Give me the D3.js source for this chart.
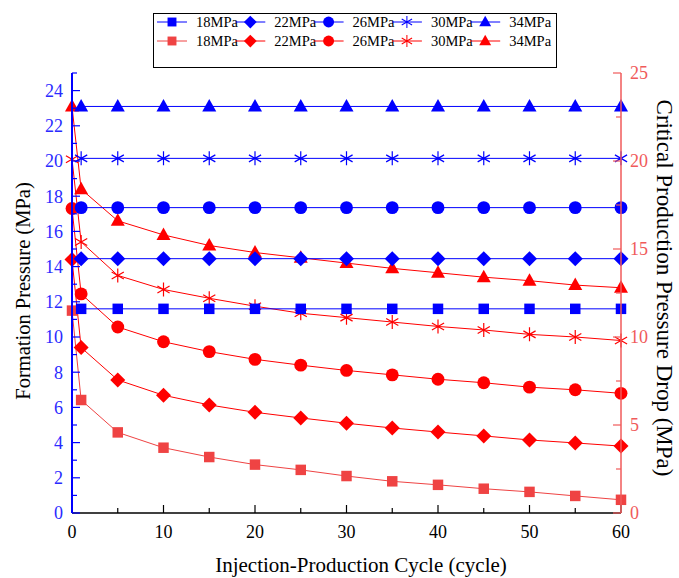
<!DOCTYPE html>
<html>
<head>
<meta charset="utf-8">
<script src="https://cdn.jsdelivr.net/npm/d3@7"></script>
<style>
  body { margin: 0; background: #fff; }
  text { font-family: "Liberation Serif", "Times New Roman", serif; }
</style>
</head>
<body>
<svg id="chart"></svg>
<script>
// x values (injection-production cycle)
const cycles = [0, 1, 5, 10, 15, 20, 25, 30, 35, 40, 45, 50, 55, 60];
const seriesNames = ["18MPa", "22MPa", "26MPa", "30MPa", "34MPa"];
const symbolTypes = ["square", "diamond", "circle", "asterisk", "triangle"];

// formation pressure (left axis), from cycle 1 onwards
const formation18 = [11.6, 11.6, 11.6, 11.6, 11.6, 11.6, 11.6, 11.6, 11.6, 11.6, 11.6, 11.6, 11.6];
const formation22 = [14.45, 14.45, 14.45, 14.45, 14.45, 14.45, 14.45, 14.45, 14.45, 14.45, 14.45, 14.45, 14.45];
const formation26 = [17.35, 17.35, 17.35, 17.35, 17.35, 17.35, 17.35, 17.35, 17.35, 17.35, 17.35, 17.35, 17.35];
const formation30 = [20.15, 20.15, 20.15, 20.15, 20.15, 20.15, 20.15, 20.15, 20.15, 20.15, 20.15, 20.15, 20.15];
const formation34 = [23.1, 23.1, 23.1, 23.1, 23.1, 23.1, 23.1, 23.1, 23.1, 23.1, 23.1, 23.1, 23.1];

// critical production pressure drop (right axis), from cycle 0
const drop18 = [11.5, 6.42, 4.58, 3.71, 3.18, 2.75, 2.45, 2.1, 1.8, 1.6, 1.38, 1.2, 0.97, 0.75];
const drop22 = [14.4, 9.4, 7.56, 6.69, 6.14, 5.72, 5.4, 5.1, 4.83, 4.6, 4.38, 4.15, 3.98, 3.8];
const drop26 = [17.3, 12.45, 10.57, 9.73, 9.17, 8.73, 8.4, 8.1, 7.85, 7.6, 7.4, 7.15, 7.0, 6.8];
const drop30 = [20.1, 15.4, 13.5, 12.7, 12.2, 11.75, 11.35, 11.1, 10.85, 10.6, 10.4, 10.15, 10.0, 9.8];
const drop34 = [23.1, 18.4, 16.6, 15.8, 15.2, 14.8, 14.5, 14.2, 13.9, 13.65, 13.4, 13.2, 12.95, 12.8];

const xTicks = [0, 10, 20, 30, 40, 50, 60];
const leftTicks = [0, 2, 4, 6, 8, 10, 12, 14, 16, 18, 20, 22, 24];
const rightTicks = [0, 5, 10, 15, 20, 25];

const W = 679, H = 578;
const margin = { left: 72, right: 58, top: 73, bottom: 65 };
const blue = "#0000ff", red = "#ff0000", red18 = "#ef4343", axisRed = "#f05a5a", labelBlue = "#2a2aff";

const svg = d3.select("#chart").attr("width", W).attr("height", H);

const x = d3.scaleLinear().domain([0, 60]).range([margin.left, W - margin.right]);
const yL = d3.scaleLinear().domain([0, 25]).range([H - margin.bottom, margin.top]);
const yR = d3.scaleLinear().domain([0, 25]).range([H - margin.bottom, margin.top]);

// marker paths
function markerPath(type) {
  if (type === "square") return d3.symbol(d3.symbolSquare, 110)();
  if (type === "circle") return d3.symbol(d3.symbolCircle, 130)();
  if (type === "diamond") { const r = 7.5; return `M0,${-r}L${r},0L0,${r}L${-r},0Z`; }
  if (type === "triangle") return "M0,-7.5L7,5L-7,5Z";
  // asterisk: vertical bar plus an X
  const r = 7;
  return `M0,${-r}L0,${r}M${-r * 0.87},${-r * 0.5}L${r * 0.87},${r * 0.5}M${-r * 0.87},${r * 0.5}L${r * 0.87},${-r * 0.5}`;
}

function drawMarker(g, type, color) {
  const p = g.append("path").attr("d", markerPath(type));
  if (type === "asterisk") p.attr("fill", "none").attr("stroke", color).attr("stroke-width", 1.2);
  else p.attr("fill", color);
}

const formationSeries = [formation18, formation22, formation26, formation30, formation34];
const dropSeries = [drop18, drop22, drop26, drop30, drop34];

const plot = svg.append("g");

// red series (critical production pressure drop)
dropSeries.forEach((vals, i) => {
  const color = i === 0 ? red18 : red;
  const pts = cycles.map((c, j) => [c, vals[j]]);
  plot.append("path")
    .attr("d", d3.line().x(d => x(d[0])).y(d => yR(d[1]))(pts))
    .attr("fill", "none").attr("stroke", color).attr("stroke-width", 1);
  pts.forEach(d => {
    const g = plot.append("g").attr("transform", `translate(${x(d[0])},${yR(d[1])})`);
    drawMarker(g, symbolTypes[i], color);
  });
});

// blue series (formation pressure)
formationSeries.forEach((vals, i) => {
  const pts = cycles.slice(1).map((c, j) => [c, vals[j]]);
  plot.append("path")
    .attr("d", d3.line().x(d => x(d[0])).y(d => yL(d[1]))(pts))
    .attr("fill", "none").attr("stroke", blue).attr("stroke-width", 1);
  pts.forEach(d => {
    const g = plot.append("g").attr("transform", `translate(${x(d[0])},${yL(d[1])})`);
    drawMarker(g, symbolTypes[i], blue);
  });
});

// bottom axis
const bottom = svg.append("g").attr("transform", `translate(0,${H - margin.bottom})`);
bottom.append("line").attr("x1", x(0)).attr("x2", x(60)).attr("stroke", "#000").attr("stroke-width", 1.5);
d3.range(0, 61, 5).forEach(v => {
  bottom.append("line").attr("x1", x(v)).attr("x2", x(v))
    .attr("y1", 0).attr("y2", v % 10 === 0 ? -8 : -5).attr("stroke", "#000").attr("stroke-width", 1.2);
});
xTicks.forEach(v => {
  bottom.append("text").attr("x", x(v)).attr("y", 25).attr("text-anchor", "middle")
    .attr("font-size", 18).attr("fill", "#000").text(v);
});

// left axis
const left = svg.append("g").attr("transform", `translate(${margin.left},0)`);
d3.range(0, 26, 1).forEach(v => {
  left.append("line").attr("x1", 0).attr("x2", v % 2 === 0 ? 8 : 5)
    .attr("y1", yL(v)).attr("y2", yL(v)).attr("stroke", blue).attr("stroke-width", 1.2);
});
left.append("line").attr("x1", 0).attr("x2", 0).attr("y1", yL(0)).attr("y2", yL(25))
  .attr("stroke", blue).attr("stroke-width", 2);
leftTicks.forEach(v => {
  left.append("text").attr("x", -9).attr("y", yL(v)).attr("dy", "0.35em").attr("text-anchor", "end")
    .attr("font-size", 18).attr("fill", labelBlue).text(v);
});

// right axis
const right = svg.append("g").attr("transform", `translate(${W - margin.right},0)`);
d3.range(0, 25.1, 2.5).forEach(v => {
  right.append("line").attr("x1", 0).attr("x2", v % 5 === 0 ? -8 : -5)
    .attr("y1", yR(v)).attr("y2", yR(v)).attr("stroke", axisRed).attr("stroke-width", 1.2);
});
right.append("line").attr("x1", 0).attr("x2", 0).attr("y1", yR(0)).attr("y2", yR(25))
  .attr("stroke", axisRed).attr("stroke-width", 1.5);
rightTicks.forEach(v => {
  right.append("text").attr("x", 9).attr("y", yR(v)).attr("dy", "0.35em").attr("text-anchor", "start")
    .attr("font-size", 18).attr("fill", axisRed).text(v);
});

// axis titles
svg.append("text").attr("x", 361).attr("y", 572).attr("text-anchor", "middle")
  .attr("font-size", 21).text("Injection-Production Cycle (cycle)");
svg.append("text").attr("transform", `translate(30,291) rotate(-90)`).attr("text-anchor", "middle")
  .attr("font-size", 20.5).text("Formation Pressure (MPa)");
svg.append("text").attr("transform", `translate(657,288) rotate(90)`).attr("text-anchor", "middle")
  .attr("font-size", 23).text("Critical Production Pressure Drop (MPa)");

// legend
const legend = svg.append("g");
legend.append("rect").attr("x", 153.5).attr("y", 13.5).attr("width", 403).attr("height", 54)
  .attr("fill", "#fff").attr("stroke", "#000").attr("stroke-width", 1);
[[blue, blue], [red18, red]].forEach((colors, row) => {
  const yy = 22 + row * 19;
  seriesNames.forEach((name, i) => {
    const color = row === 1 && i > 0 ? colors[1] : colors[0];
    const cx = 172 + i * 78.3;
    legend.append("line").attr("x1", cx - 15).attr("x2", cx + 15).attr("y1", yy).attr("y2", yy)
      .attr("stroke", color).attr("stroke-width", 1);
    const g = legend.append("g").attr("transform", `translate(${cx},${yy}) scale(0.85)`);
    drawMarker(g, symbolTypes[i], color);
    legend.append("text").attr("x", cx + 24).attr("y", yy).attr("dy", "0.35em")
      .attr("font-size", 14.5).attr("fill", "#000").text(name);
  });
});
</script>
</body>
</html>
